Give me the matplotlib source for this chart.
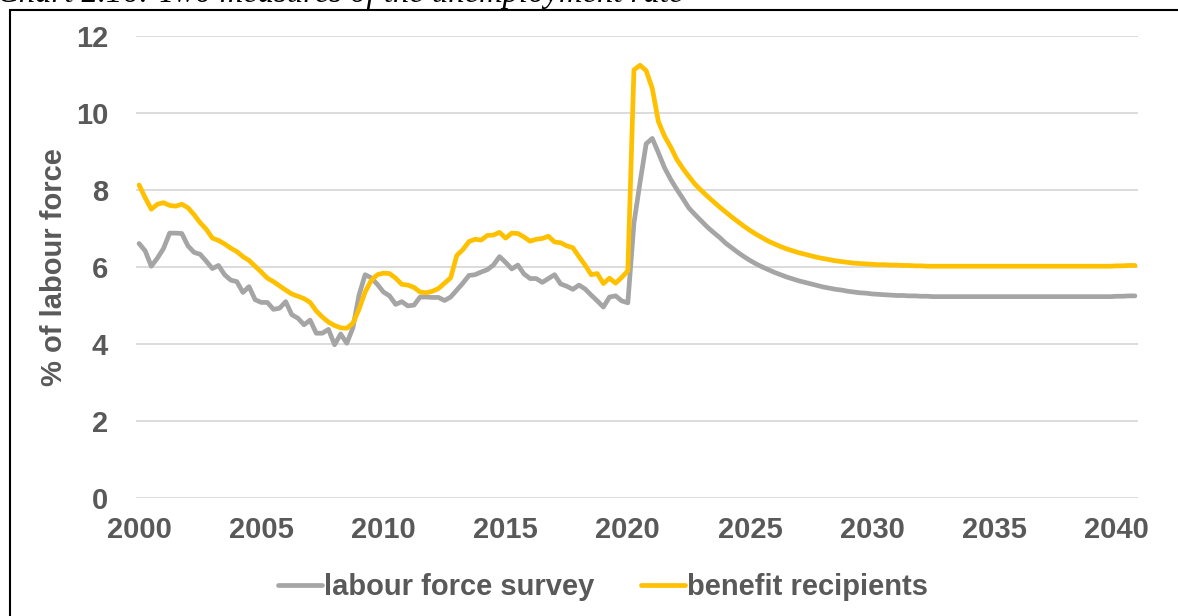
import numpy as np
import matplotlib
matplotlib.use("Agg")
import matplotlib.pyplot as plt
from matplotlib.patches import Rectangle

# quarterly data, 2000Q1 .. 2040Q4
start_year = 2000
xtick_years = [2000, 2005, 2010, 2015, 2020, 2025, 2030, 2035, 2040]
ytick_values = [0, 2, 4, 6, 8, 10, 12]

labour_force_survey = [
    6.61, 6.42, 6.02, 6.23, 6.48, 6.88, 6.88, 6.87, 6.55, 6.38,
    6.33, 6.15, 5.96, 6.04, 5.80, 5.66, 5.62, 5.34, 5.49, 5.15,
    5.08, 5.08, 4.90, 4.93, 5.10, 4.76, 4.67, 4.50, 4.62, 4.28,
    4.28, 4.38, 3.98, 4.26, 4.02, 4.42, 5.27, 5.80, 5.72, 5.55,
    5.35, 5.25, 5.03, 5.10, 4.99, 5.01, 5.22, 5.22, 5.21, 5.21,
    5.13, 5.22, 5.40, 5.58, 5.78, 5.80, 5.87, 5.93, 6.05, 6.27,
    6.12, 5.95, 6.05, 5.82, 5.70, 5.70, 5.60, 5.70, 5.80, 5.56,
    5.50, 5.42, 5.53, 5.43, 5.27, 5.12, 4.96, 5.22, 5.25, 5.12,
    5.07, 7.14, 8.20, 9.20, 9.34, 8.97, 8.58, 8.28, 8.02, 7.78,
    7.53, 7.36, 7.20, 7.04, 6.90, 6.77, 6.62, 6.50, 6.38, 6.27,
    6.17, 6.08, 6.00, 5.93, 5.86, 5.80, 5.74, 5.69, 5.64, 5.60,
    5.56, 5.52, 5.48, 5.45, 5.42, 5.40, 5.37, 5.35, 5.33, 5.32,
    5.30, 5.29, 5.28, 5.27, 5.26, 5.26, 5.25, 5.25, 5.24, 5.24,
    5.23, 5.23, 5.23, 5.23, 5.23, 5.23, 5.23, 5.23, 5.23, 5.23,
    5.23, 5.23, 5.23, 5.23, 5.23, 5.23, 5.23, 5.23, 5.23, 5.23,
    5.23, 5.23, 5.23, 5.23, 5.23, 5.23, 5.23, 5.23, 5.23, 5.23,
    5.24, 5.24, 5.25, 5.25,
]

benefit_recipients = [
    8.13, 7.80, 7.50, 7.63, 7.67, 7.60, 7.58, 7.63, 7.54, 7.36,
    7.15, 6.98, 6.75, 6.69, 6.60, 6.49, 6.40, 6.27, 6.17, 6.02,
    5.87, 5.71, 5.62, 5.51, 5.40, 5.30, 5.24, 5.18, 5.08, 4.86,
    4.70, 4.57, 4.48, 4.42, 4.41, 4.54, 4.90, 5.35, 5.65, 5.80,
    5.84, 5.83, 5.71, 5.55, 5.53, 5.47, 5.35, 5.33, 5.37, 5.44,
    5.58, 5.72, 6.30, 6.45, 6.66, 6.72, 6.70, 6.82, 6.83, 6.90,
    6.75, 6.88, 6.87, 6.78, 6.67, 6.72, 6.74, 6.80, 6.65, 6.63,
    6.55, 6.50, 6.27, 6.05, 5.80, 5.83, 5.57, 5.71, 5.58, 5.73,
    5.90, 11.12, 11.24, 11.10, 10.64, 9.78, 9.40, 9.12, 8.80, 8.56,
    8.35, 8.15, 7.99, 7.84, 7.70, 7.56, 7.43, 7.30, 7.18, 7.06,
    6.95, 6.85, 6.76, 6.67, 6.60, 6.53, 6.47, 6.42, 6.37, 6.33,
    6.29, 6.25, 6.22, 6.19, 6.16, 6.14, 6.12, 6.10, 6.09, 6.08,
    6.07, 6.06, 6.06, 6.05, 6.05, 6.04, 6.04, 6.03, 6.03, 6.02,
    6.02, 6.02, 6.02, 6.02, 6.02, 6.02, 6.02, 6.02, 6.02, 6.02,
    6.02, 6.02, 6.02, 6.02, 6.02, 6.02, 6.02, 6.02, 6.02, 6.02,
    6.02, 6.02, 6.02, 6.02, 6.02, 6.02, 6.02, 6.02, 6.02, 6.02,
    6.03, 6.03, 6.04, 6.04,
]

quarters = start_year + np.arange(len(labour_force_survey)) / 4.0

txt_color = '#595959'
plt.rcParams['font.family'] = ['Liberation Sans', 'DejaVu Sans']
plt.rcParams['font.weight'] = 'bold'

fig = plt.figure(figsize=(11.78, 6.16), dpi=100)
ax = fig.add_axes([136/1178, 1 - 498/616, (1138 - 136)/1178, (498 - 36)/616])

ax.plot(quarters, labour_force_survey, color='#A5A5A5', lw=3.4, label='labour force survey',
        solid_joinstyle='round', solid_capstyle='round', zorder=3)
ax.plot(quarters, benefit_recipients, color='#FFC000', lw=3.4, label='benefit recipients',
        solid_joinstyle='round', solid_capstyle='round', zorder=4)

ax.set_xlim(start_year - 0.125, start_year + len(quarters) / 4.0 - 0.125)
ax.set_ylim(0, 12)
ax.set_xticks(xtick_years)
ax.set_xticklabels([str(y) for y in xtick_years])
ax.set_yticks(ytick_values)
ax.set_yticklabels([str(v) for v in ytick_values])
ax.tick_params(axis='both', length=0, labelsize=21, labelcolor=txt_color)
ax.tick_params(axis='x', pad=13)
ax.tick_params(axis='y', pad=20)
ax.grid(axis='y', color='#D9D9D9', lw=1.3)
ax.set_axisbelow(True)
for s in ax.spines.values():
    s.set_visible(False)

ax.set_ylabel('% of labour force', fontsize=21, fontweight='bold', color=txt_color, labelpad=6)

leg = fig.legend(loc='center', bbox_to_anchor=(603/1178, 1 - 587/616), ncol=2, frameon=False,
                 fontsize=21, handlelength=1.5, handletextpad=0.08, columnspacing=1.6)
for t in leg.get_texts():
    t.set_color(txt_color)
for h in leg.get_lines():
    h.set_linewidth(3.4)

# outer frame (right and bottom edges fall outside the image)
fig.patches.append(Rectangle((10/1178, -0.05), 1.1, 1 - 10/616 + 0.05, transform=fig.transFigure,
                             fill=False, ec='black', lw=1.5))

# title, mostly cut off at the top
fig.text(-3/1178, 1 - 2/616, 'Chart 2.16: Two measures of the unemployment rate',
         family=['Liberation Serif', 'DejaVu Serif'], style='italic', weight='normal',
         fontsize=23.5, color='black', va='baseline', ha='left')

fig.savefig('out.png', dpi=100)
